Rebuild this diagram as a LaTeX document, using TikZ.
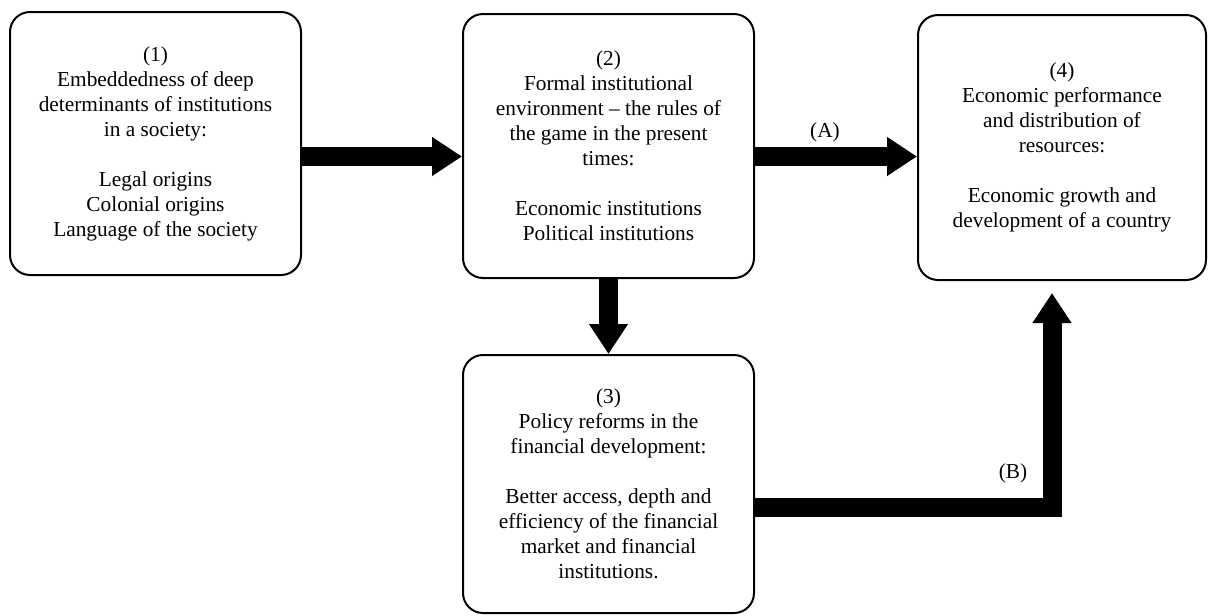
\documentclass[tikz,border=0pt]{standalone}
\usepackage{fontspec}
\setmainfont{Liberation Serif}
\usepackage{tikz}
\usetikzlibrary{arrows.meta,positioning}

\newcommand{\boxfont}{\fontsize{16}{18.75}\selectfont}

\begin{document}
\begin{tikzpicture}[x=0.75pt,y=-0.75pt]
            \tikzstyle{block}=[rectangle, rounded corners=15pt, draw=black, line width=1.5pt, align=center, inner sep=4pt, font=\boxfont]
            \tikzstyle{flow}=[line width=14.25pt, line join=miter, -{Triangle[width=27.75pt,length=22.5pt]}]
            \tikzstyle{lbl}=[font=\boxfont, inner sep=0pt]
            \useasboundingbox (0,0) rectangle (1208,615);

            \node[block, minimum width=218.25pt, minimum height=197.25pt] (b1) at (155.5,143.5){(1)\\Embeddedness of deep\\determinants of institutions\\in a society:\\[18.75pt]Legal origins\\Colonial origins\\Language of the society};
            \node[block, minimum width=218.25pt, minimum height=198pt] (b2) at (608.5,146){(2)\\Formal institutional\\environment -- the rules of\\the game in the present\\times:\\[18.75pt]Economic institutions\\Political institutions};
            \node[block, minimum width=218.25pt, minimum height=193.5pt] (b3) at (608.5,484){(3)\\Policy reforms in the\\financial development:\\[18.75pt]Better access, depth and\\efficiency of the financial\\market and financial\\institutions.};
            \node[block, minimum width=216pt, minimum height=198.75pt] (b4) at (1062,147.5){(4)\\Economic performance\\and distribution of\\resources:\\[18.75pt]Economic growth and\\development of a country};

            \coordinate (rowA) at (0,156.5);
            \coordinate (rowB) at (0,507.5);
            \coordinate (colB) at (1052,0);
            \coordinate (tipB) at (0,293);

            \draw[flow] (b1.east |- rowA) -- (b2.west |- rowA);
            \draw[flow] (b2.east |- rowA) -- (b4.west |- rowA);
            \draw[flow] (b2.south) -- (b3.north);
            \draw[flow] (b3.east |- rowB) -- (colB |- rowB) -- (colB |- tipB);

            \node[lbl] (labA) at (825,132){(A)};
            \node[lbl] (labB) at (1013,473){(B)};
        \end{tikzpicture}
\end{document}
